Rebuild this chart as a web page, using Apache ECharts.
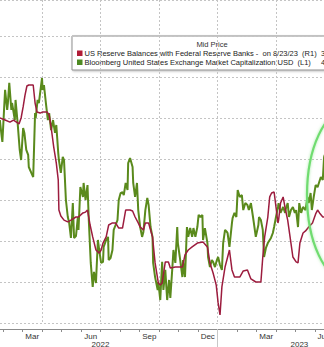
<!DOCTYPE html>
<html>
<head>
<meta charset="utf-8">
<script src="https://cdn.jsdelivr.net/npm/echarts@6.0.0/dist/echarts.min.js"></script>
<style>
html,body{margin:0;padding:0;background:#fff;}
#chart{width:324px;height:347px;}
</style>
</head>
<body>
<div id="chart"></div>
<script>
// ---- data ----
const greenDates = ['2022-01-27','2022-01-30','2022-01-31','2022-02-04','2022-02-07','2022-02-08','2022-02-10','2022-02-13','2022-02-14','2022-02-18','2022-02-19','2022-02-22','2022-02-25','2022-02-27','2022-03-02','2022-03-04','2022-03-07','2022-03-10','2022-03-11','2022-03-15','2022-03-18','2022-03-21','2022-03-22','2022-03-25','2022-03-27','2022-03-30','2022-04-01','2022-04-02','2022-04-04','2022-04-07','2022-04-10','2022-04-12','2022-04-15','2022-04-18','2022-04-21','2022-04-23','2022-04-26','2022-04-27','2022-04-30','2022-05-03','2022-05-05','2022-05-08','2022-05-11','2022-05-13','2022-05-16','2022-05-19','2022-05-21','2022-05-24','2022-05-27','2022-05-28','2022-05-31','2022-06-04','2022-06-05','2022-06-08','2022-06-11','2022-06-13','2022-06-16','2022-06-19','2022-06-21','2022-06-24','2022-06-27','2022-06-29','2022-07-02','2022-07-05','2022-07-06','2022-07-10','2022-07-13','2022-07-14','2022-07-17','2022-07-20','2022-07-22','2022-07-25','2022-07-28','2022-07-30','2022-08-02','2022-08-05','2022-08-07','2022-08-10','2022-08-13','2022-08-14','2022-08-17','2022-08-21','2022-08-22','2022-08-25','2022-08-28','2022-08-30','2022-09-02','2022-09-05','2022-09-07','2022-09-10','2022-09-13','2022-09-15','2022-09-18','2022-09-21','2022-09-22','2022-09-25','2022-09-29','2022-09-30','2022-10-03','2022-10-06','2022-10-08','2022-10-11','2022-10-14','2022-10-17','2022-10-19','2022-10-22','2022-10-24','2022-10-27','2022-10-30','2022-10-31','2022-11-03','2022-11-07','2022-11-08','2022-11-11','2022-11-14','2022-11-16','2022-11-19','2022-11-22','2022-11-24','2022-11-27','2022-11-30','2022-12-02','2022-12-05','2022-12-08','2022-12-09','2022-12-12','2022-12-16','2022-12-17','2022-12-20','2022-12-23','2022-12-25','2022-12-28','2022-12-31','2023-01-02','2023-01-05','2023-01-08','2023-01-10','2023-01-13','2023-01-16','2023-01-17','2023-01-20','2023-01-24','2023-01-25','2023-01-28','2023-01-31','2023-02-02','2023-02-05','2023-02-08','2023-02-10','2023-02-13','2023-02-16','2023-02-18','2023-02-21','2023-02-24','2023-02-25','2023-02-28','2023-03-04','2023-03-05','2023-03-08','2023-03-11','2023-03-13','2023-03-16','2023-03-19','2023-03-24','2023-03-27','2023-03-29','2023-04-01','2023-04-04','2023-04-05','2023-04-08','2023-04-12','2023-04-15','2023-04-16','2023-04-19','2023-04-21','2023-04-24','2023-04-27','2023-04-30','2023-05-02','2023-05-05','2023-05-07','2023-05-10','2023-05-13','2023-05-17','2023-05-20','2023-05-22','2023-05-25','2023-05-27','2023-05-30','2023-06-02','2023-06-05','2023-06-07','2023-06-10','2023-06-13','2023-06-15','2023-06-16'];
const greenValues = [43.90,43.07,42.83,45.37,44.39,44.73,45.71,44.39,44.73,43.90,44.88,43.76,42.44,41.95,43.51,43.27,42.44,42.20,41.61,41.32,41.12,44.24,44.00,44.88,44.73,45.46,45.95,45.37,45.61,44.73,43.90,44.24,43.41,43.90,43.27,43.66,42.29,41.95,41.32,42.10,41.95,40.00,39.17,38.93,38.15,39.85,38.15,38.24,39.17,38.54,40.63,40.15,40.83,40.00,40.73,39.02,36.93,35.76,36.49,35.95,38.05,37.56,36.93,36.98,37.71,38.05,38.20,37.07,37.17,37.56,38.54,38.78,39.02,40.00,40.34,40.39,40.24,40.83,40.49,41.80,42.05,41.61,40.83,40.15,40.83,39.51,38.68,38.20,38.44,39.51,40.10,39.76,38.68,38.20,36.93,36.24,35.61,36.00,35.12,36.98,35.61,36.59,35.12,36.10,35.22,36.59,37.56,36.93,38.68,37.90,37.22,36.24,37.07,36.24,38.68,38.20,38.63,38.20,38.63,38.20,38.68,39.27,39.17,39.27,38.05,38.63,37.90,37.22,36.73,37.07,36.98,36.73,37.07,37.22,36.83,36.59,37.90,38.54,38.44,38.39,37.71,38.88,39.12,39.37,39.17,40.49,40.15,40.24,39.51,39.85,39.76,39.51,39.85,39.17,38.93,38.20,38.78,39.17,39.02,38.54,37.22,37.66,37.90,38.15,38.39,38.68,39.17,39.66,39.85,39.37,39.66,39.37,39.56,39.85,39.17,39.51,39.66,39.37,39.51,38.68,39.85,39.37,39.66,39.51,40.15,39.85,40.34,39.51,40.15,40.73,40.63,40.83,41.12,40.98,42.10,42.20];

const redDates = ['2022-01-27','2022-02-04','2022-02-11','2022-02-16','2022-02-22','2022-02-24','2022-02-27','2022-03-02','2022-03-05','2022-03-08','2022-03-11','2022-03-18','2022-03-21','2022-03-24','2022-03-29','2022-04-02','2022-04-09','2022-04-12','2022-04-15','2022-04-19','2022-04-23','2022-04-26','2022-04-27','2022-04-30','2022-05-05','2022-05-11','2022-05-16','2022-05-24','2022-05-28','2022-06-04','2022-06-08','2022-06-11','2022-06-15','2022-06-19','2022-06-24','2022-06-29','2022-07-02','2022-07-05','2022-07-10','2022-07-14','2022-07-20','2022-07-25','2022-07-30','2022-08-05','2022-08-10','2022-08-17','2022-08-21','2022-08-25','2022-08-30','2022-09-02','2022-09-07','2022-09-10','2022-09-15','2022-09-18','2022-09-21','2022-09-25','2022-09-30','2022-10-03','2022-10-06','2022-10-11','2022-10-16','2022-10-19','2022-10-27','2022-10-31','2022-11-07','2022-11-11','2022-11-16','2022-11-22','2022-11-30','2022-12-09','2022-12-16','2022-12-20','2022-12-25','2022-12-30','2023-01-02','2023-01-05','2023-01-08','2023-01-13','2023-01-20','2023-01-24','2023-01-28','2023-02-05','2023-02-10','2023-02-16','2023-02-21','2023-02-28','2023-03-08','2023-03-11','2023-03-14','2023-03-19','2023-03-22','2023-03-25','2023-03-29','2023-04-01','2023-04-04','2023-04-05','2023-04-08','2023-04-12','2023-04-15','2023-04-19','2023-04-24','2023-04-27','2023-05-02','2023-05-05','2023-05-08','2023-05-13','2023-05-17','2023-05-22','2023-05-28','2023-06-02','2023-06-05','2023-06-08','2023-06-13','2023-06-16'];
const redValues = [3.900,3.890,3.880,3.890,3.876,3.871,3.900,3.954,4.012,4.056,4.061,4.061,3.973,3.929,3.924,3.929,3.929,3.915,3.856,3.759,3.680,3.598,3.451,3.422,3.402,3.393,3.402,3.417,3.417,3.437,3.441,3.451,3.378,3.320,3.256,3.241,3.256,3.290,3.320,3.378,3.388,3.388,3.363,3.363,3.451,3.451,3.446,3.417,3.388,3.368,3.354,3.388,3.388,3.354,3.320,3.193,3.095,3.085,3.095,3.198,3.198,3.168,3.173,3.173,3.173,3.232,3.256,3.271,3.290,3.295,3.271,3.193,3.144,3.085,2.998,2.939,3.076,3.173,3.256,3.159,3.124,3.124,3.154,3.159,3.115,3.100,3.100,3.222,3.320,3.417,3.515,3.534,3.539,3.466,3.388,3.402,3.485,3.515,3.461,3.402,3.290,3.222,3.198,3.193,3.290,3.339,3.349,3.368,3.388,3.432,3.451,3.437,3.417,3.417];

const monthLabels = ['Mar','Jun','Sep','Dec','Mar','Jun'];
const yearLabels = ['2022','2023'];
const legendTitle = 'Mid Price';
const legendLabels = ['US Reserve Balances with Federal Reserve Banks -  on 8/23/23  (R1)',
                      'Bloomberg United States Exchange Market Capitalization USD  (L1)'];
const legendValues = ['3','4'];

// ---- helpers ----
function toMonth(s){
  const p = s.split('-').map(Number);
  const dim = new Date(p[0], p[1], 0).getDate();
  return (p[0]-2022)*12 + (p[1]-1) + (p[2]-1)/dim;
}
// visible window, in months since Jan 2022
const X_MIN = 0.846, X_MAX = 17.462;
const quarterLines = [3,6,9,12,15];
const monthLabelPos = [2.5,5.5,8.5,11.5,14.5,17.46];
const yearLabelPos = [6,16.2];
const monthTicks = []; for(let i=1;i<=17;i++) monthTicks.push(i);

const RED = '#9c1c3e', GREEN = '#5a8a1c';
const chart = echarts.init(document.getElementById('chart'), null, {renderer:'svg'});
const font = 'Liberation Sans, Arial, sans-serif';

chart.setOption({
  animation:false,
  backgroundColor:'#fff',
  grid:{left:0,right:0,top:0,bottom:24,containLabel:false,outerBoundsMode:'none'},
  xAxis:[
    {type:'value',min:X_MIN,max:X_MAX,
     axisLine:{show:false},axisTick:{show:false,customValues:quarterLines},axisLabel:{show:false},
     splitLine:{show:true,lineStyle:{color:'#c4c4c4',type:[2,2],width:1}}},
    {type:'value',min:X_MIN,max:X_MAX,position:'bottom',offset:6,
     axisLine:{show:true,lineStyle:{color:'#8c8c8c',width:1}},
     axisTick:{show:true,customValues:monthTicks,length:3,lineStyle:{color:'#8c8c8c'}},
     axisLabel:{show:true,customValues:monthLabelPos,margin:3,fontSize:8,color:'#333',fontFamily:font,
       formatter:function(v){const i=monthLabelPos.indexOf(v);return i>=0?monthLabels[i]:'';}},
     splitLine:{show:false}},
    {type:'value',min:X_MIN,max:X_MAX,position:'bottom',offset:6,
     axisLine:{show:false},
     axisTick:{show:true,customValues:[12],length:18,lineStyle:{color:'#c8c8c8'}},
     axisLabel:{show:true,customValues:yearLabelPos,margin:11,fontSize:8,color:'#333',fontFamily:font,
       formatter:function(v){const i=yearLabelPos.indexOf(v);return i>=0?yearLabels[i]:'';}},
     splitLine:{show:false}}
  ],
  yAxis:[
    {type:'value',min:34,max:49.756,interval:2,
     axisLine:{show:false},axisTick:{show:false},axisLabel:{show:false},
     splitLine:{show:true,lineStyle:{color:'#c4c4c4',type:[2,2],width:1}}},
    {type:'value',min:2.9,max:4.4756,show:false,splitLine:{show:false}}
  ],
  series:[
    {name:legendLabels[1],type:'line',xAxisIndex:0,yAxisIndex:0,showSymbol:false,z:2,
     lineStyle:{color:GREEN,width:2},
     data:greenDates.map((d,i)=>[toMonth(d),greenValues[i]])},
    {name:legendLabels[0],type:'line',xAxisIndex:0,yAxisIndex:1,showSymbol:false,z:3,
     lineStyle:{color:RED,width:1.5},
     data:redDates.map((d,i)=>[toMonth(d),redValues[i]])}
  ],
  graphic:[
    {type:'ellipse',z:50,shape:{cx:347,cy:195,rx:40,ry:85},
     style:{fill:'none',stroke:'#6fdc6f',lineWidth:2.2,shadowBlur:3,shadowColor:'rgba(110,220,110,0.6)'}},
    {type:'group',z:100,children:[
      {type:'rect',shape:{x:72,y:36,width:280,height:34},
       style:{fill:'#fff',stroke:'#8f8f8f',lineWidth:1,shadowBlur:2,shadowOffsetX:1,shadowOffsetY:1,shadowColor:'rgba(0,0,0,0.25)'}},
      {type:'text',x:212,y:44,style:{text:legendTitle,fill:'#333',font:'7.5px '+font,textAlign:'center',textVerticalAlign:'middle'}},
      {type:'rect',shape:{x:77,y:50.5,width:5.5,height:5.5},style:{fill:'#b01c36'}},
      {type:'text',x:84.5,y:53.5,style:{text:legendLabels[0],fill:'#222',font:'7.5px '+font,textAlign:'left',textVerticalAlign:'middle'}},
      {type:'text',x:321,y:53.5,style:{text:legendValues[0],fill:'#222',font:'7.5px '+font,textAlign:'left',textVerticalAlign:'middle'}},
      {type:'rect',shape:{x:77,y:59.5,width:5.5,height:5.5},style:{fill:'#4e8a22'}},
      {type:'text',x:84.5,y:62.5,style:{text:legendLabels[1],fill:'#222',font:'7.5px '+font,textAlign:'left',textVerticalAlign:'middle'}},
      {type:'text',x:321,y:62.5,style:{text:legendValues[1],fill:'#222',font:'7.5px '+font,textAlign:'left',textVerticalAlign:'middle'}}
    ]}
  ]
});
</script>
</body>
</html>
